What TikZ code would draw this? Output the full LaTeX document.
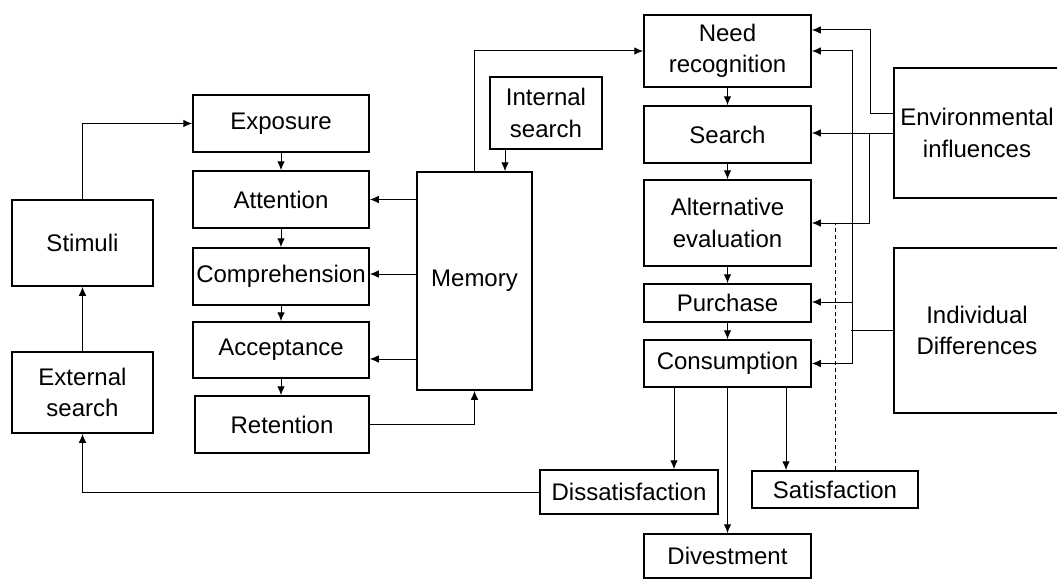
\documentclass[tikz,border=0pt]{standalone}
\usepackage{fontspec}
\setmainfont{Liberation Sans}
\usetikzlibrary{arrows.meta}
\begin{document}
\begin{tikzpicture}[x=1pt,y=-1pt,
 box/.style={draw,line width=1.5pt,rectangle,inner sep=1pt,align=center,font=\fontsize{24}{31.5}\selectfont},
 arr/.style={line width=1pt,-{Latex[length=9pt,width=7.5pt]}},
 ln/.style={line width=1pt}]
\useasboundingbox (0,0) rectangle (1057,586);
% left column
\node[box,minimum width=141pt,minimum height=86pt] (stim) at (82.5,243) {Stimuli};
\node[box,minimum width=141pt,minimum height=81pt] (ext) at (82.5,392.5) {External\\search};
\node[box,minimum width=176pt,minimum height=57pt] (expo) at (281,123.5) {Exposure};
\node[box,minimum width=176pt,minimum height=57pt] (att) at (281,199.5) {Attention};
\node[box,minimum width=176pt,minimum height=57pt] (comp) at (281,276.5) {Comprehension};
\node[box,minimum width=176pt,minimum height=56pt] (acc) at (281,350) {Acceptance};
\node[box,minimum width=174pt,minimum height=57pt] (ret) at (282,424.5) {Retention};
\node[box,minimum width=115pt,minimum height=218pt] (mem) at (474.5,281) {Memory};
\node[box,minimum width=112pt,minimum height=72pt] (int) at (546,113) {Internal\\search};
% right column
\node[box,minimum width=167pt,minimum height=72pt] (need) at (727.5,51) {Need\\recognition};
\node[box,minimum width=167pt,minimum height=57pt] (search) at (727.5,134.5) {Search};
\node[box,minimum width=167pt,minimum height=86pt] (alt) at (727.5,223) {Alternative\\evaluation};
\node[box,minimum width=167pt,minimum height=38pt] (pur) at (727.5,303) {Purchase};
\node[box,minimum width=167pt,minimum height=47pt] (cons) at (727.5,363.5) {Consumption};
\node[box,minimum width=166pt,minimum height=130pt] (env) at (977,133) {Environmental\\influences};
\node[box,minimum width=166pt,minimum height=165pt] (ind) at (977,330.5) {Individual\\Differences};
\node[box,minimum width=178pt,minimum height=44pt] (dissat) at (629,492) {Dissatisfaction};
\node[box,minimum width=166pt,minimum height=37pt] (sat) at (835,489.5) {Satisfaction};
\node[box,minimum width=167pt,minimum height=44pt] (div) at (727.5,556) {Divestment};
% left connectors
\draw[arr] (ext.north) -- (stim.south);
\draw[arr] (stim.north) |- (expo.west);
\draw[arr] (expo.south) -- (att.north);
\draw[arr] (att.south) -- (comp.north);
\draw[arr] (comp.south) -- (acc.north);
\draw[arr] (acc.south) -- (acc.south |- ret.north);
\draw[arr] (mem.west |- att.east) -- (att.east);
\draw[arr] ([yshift=2.5pt]mem.west |- comp.east) -- ([yshift=2.5pt]comp.east);
\draw[arr] ([yshift=-9pt]mem.west |- acc.east) -- ([yshift=-9pt]acc.east);
\draw[arr] (ret.east) -| (mem.south);
\draw[arr] ([xshift=-41pt]int.south) -- ([xshift=-41pt]int.south |- mem.north);
\draw[arr] (mem.north) |- (need.west);
% right column connectors
\draw[arr] (need.south) -- (search.north);
\draw[arr] (search.south) -- (alt.north);
\draw[arr] (alt.south) -- (pur.north);
\draw[arr] (pur.south) -- (cons.north);
% environmental influences
\draw[arr] ([yshift=20pt]env.west) -| ([xshift=59pt,yshift=21pt]need.east) -- ([yshift=21pt]need.east);
\draw[arr] (env.west) -- (env.west -| search.east);
\draw[arr] ([xshift=-24pt]env.west) |- (alt.east);
% individual differences
\draw[ln] (ind.west) -- ([xshift=-42pt]ind.west);
\draw[ln] ([xshift=41pt]need.east) -- ([xshift=41pt]cons.east);
\draw[arr] ([xshift=41pt]need.east) -- (need.east);
\draw[arr] ([xshift=41pt,yshift=1pt]pur.east) -- ([yshift=1pt]pur.east);
\draw[arr] ([xshift=41pt]cons.east) -- (cons.east);
% satisfaction feedback
\draw[ln,dash pattern=on 4pt off 3pt] (sat.north) -- (sat.north |- alt.east);
% consumption outcomes
\draw[arr] ([xshift=-53.5pt]cons.south) -- ([xshift=-53.5pt]cons.south |- dissat.north);
\draw[arr] (cons.south) -- (div.north);
\draw[arr] ([xshift=58.5pt]cons.south) -- ([xshift=58.5pt]cons.south |- sat.north);
\draw[arr] (dissat.west) -| (ext.south);
\end{tikzpicture}
\end{document}
